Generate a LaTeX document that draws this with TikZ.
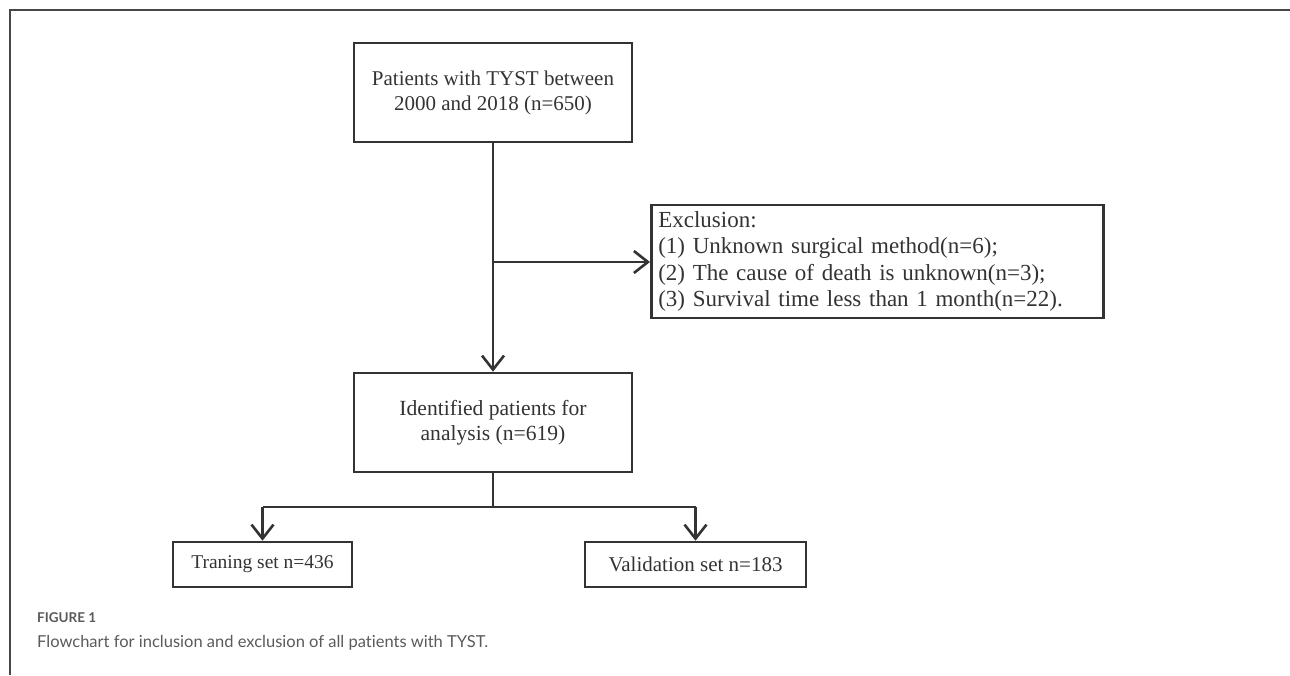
\documentclass[tikz,border=0pt]{standalone}
\usepackage{fontspec}
\setmainfont{Liberation Serif}
\newfontfamily\capfont[Ligatures=NoCommon]{Lato}
\usetikzlibrary{arrows.meta}
\definecolor{ink}{HTML}{333333}
\definecolor{capgray}{HTML}{5A5A5A}
\begin{document}
\begin{tikzpicture}[x=1pt,y=-1pt,
  box/.style={draw=ink,line width=2.6pt,text=ink,inner sep=0pt,font=\fontsize{21}{25}\selectfont,align=center},
  conn/.style={draw=ink,line width=2.6pt},
  arr/.style={conn,-{Straight Barb[length=14pt,width=22pt,line width=2.6pt]}}]
\useasboundingbox (0,0) rectangle (1290,675);
% frame
\draw[line width=1.8pt,draw=ink!90] (10,675) -- (10,10) -- (1290,10);
% boxes
\node[box,minimum width=278pt,minimum height=99pt] (top) at (493,92.5) {Patients with TYST between\\2000 and 2018 (n=650)};
\node[box,minimum width=452pt,minimum height=113pt,anchor=west,align=left,text width=438pt,inner xsep=7pt,font=\fontsize{23}{26.5}\selectfont] (excl) at (650,261.5) {Exclusion:\\(1) Unknown surgical method(n=6);\\(2) The cause of death is unknown(n=3);\\(3) Survival time less than 1 month(n=22).};
\node[box,minimum width=278pt,minimum height=99pt,font=\fontsize{21.6}{25}\selectfont] (mid) at (493,422.5) {Identified patients for\\analysis (n=619)};
\node[box,minimum width=179pt,minimum height=45pt,font=\fontsize{19.5}{22}\selectfont] (train) at (262.5,564.5) {Traning set n=436};
\node[box,minimum width=221pt,minimum height=45pt] (valid) at (695.5,564.5) {Validation set n=183};
% connectors
\coordinate (br) at (493,262);
\coordinate (sp) at (493,507);
\draw[arr] (top) -- (mid);
\draw[arr] (br) -- (br -| excl.west);
\draw[conn] (mid) -- (sp);
\draw[conn] (train.north |- sp) -- (valid.north |- sp);
\draw[arr] (train.north |- sp) -- (train);
\draw[arr] (valid.north |- sp) -- (valid);
% caption
\node[anchor=base west,inner sep=0pt,text=capgray,font=\capfont\bfseries\fontsize{13.5}{15}\selectfont] (fig) at (37,622) {FIGURE 1};
\node[anchor=base west,inner sep=0pt,text=capgray,font=\capfont\fontsize{16.5}{19}\selectfont] (cap) at (37,647) {Flowchart for inclusion and exclusion of all patients with TYST.};
\end{tikzpicture}
\end{document}
